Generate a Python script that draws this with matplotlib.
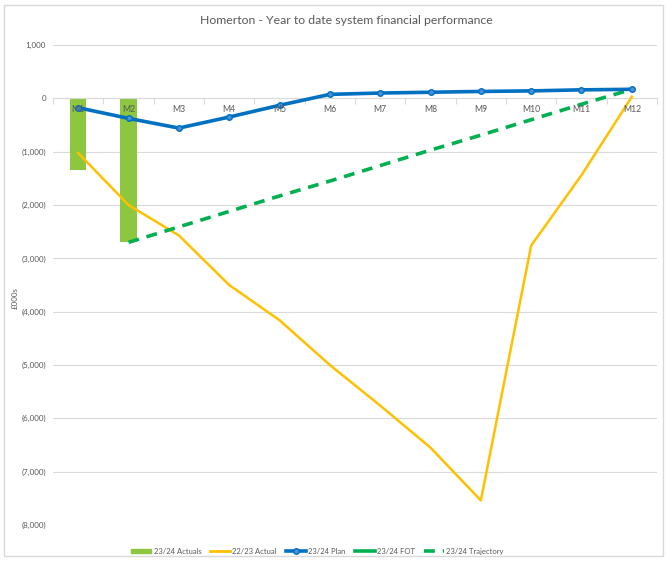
import numpy as np
import matplotlib.pyplot as plt
from matplotlib.lines import Line2D
from matplotlib.patches import Patch, Rectangle
from matplotlib.ticker import FuncFormatter

# Monthly year-to-date position, £000s
months = ['M1', 'M2', 'M3', 'M4', 'M5', 'M6', 'M7', 'M8', 'M9', 'M10', 'M11', 'M12']
actuals_2324 = [-1350, -2700]
actual_2223 = [-1025, -2000, -2570, -3500, -4160, -5000, -5760, -6550, -7540, -2760, -1440, 30]
plan_2324 = [-175, -375, -557, -350, -130, 75, 100, 115, 130, 140, 160, 170]
fot_2324 = []
trajectory_2324 = [-2700, -2410, -2120, -1830, -1550, -1260, -970, -690, -400, -110, 170]

plt.rcParams['font.family'] = ['Lato', 'DejaVu Sans']

fig = plt.figure(figsize=(6.67, 5.63), dpi=100)
ax = fig.add_axes([0.0795, 0.0675, 0.9055, 0.8525])

x = np.arange(len(months))
grey = '#595959'

ax.bar(x[:len(actuals_2324)], actuals_2324, width=0.32, color='#8DC63F', zorder=2)
ax.plot(x, actual_2223, color='#FFC000', lw=1.8, zorder=3)
ax.plot(x, plan_2324, color='#0070C0', lw=2.6, marker='o', ms=4,
        mfc='#4A90D9', mec='#0070C0', zorder=5)
ax.plot(x[1:], trajectory_2324, color='#00B050', lw=2.6, ls=(0, (3, 2.2)), zorder=4)

ax.set_xlim(-0.5, len(months) - 0.5)
ax.set_ylim(-8000, 1000)
ax.set_yticks(np.arange(-8000, 1001, 1000))
ax.yaxis.set_major_formatter(FuncFormatter(
    lambda v, p: '({:,.0f})'.format(-v) if v < 0 else '{:,.0f}'.format(v)))
ax.tick_params(axis='y', length=0, labelsize=5.8, labelcolor=grey, pad=5)
ax.grid(axis='y', color='#D9D9D9', lw=0.8, zorder=0)

# category axis sits on the zero line, labels drawn over the bars
for s in ['top', 'right', 'left']:
    ax.spines[s].set_visible(False)
ax.spines['bottom'].set_position(('data', 0))
ax.spines['bottom'].set_color('#D9D9D9')
ax.set_xticks(np.arange(-0.5, len(months), 1))
ax.tick_params(axis='x', length=4, color='#D9D9D9', labelbottom=False)
for xi, m in zip(x, months):
    ax.annotate(m, (xi, 0), xytext=(0, -5), textcoords='offset points',
                ha='center', va='top', fontsize=6.2, color=grey, zorder=6)

fig.text(0.023, 0.47, '£000s', rotation=90, fontsize=5.8, color=grey,
         ha='center', va='center')
fig.text(0.52, 0.963, 'Homerton - Year to date system financial performance',
         fontsize=8.8, color=grey, ha='center', va='center')

handles = [
    Patch(color='#8DC63F'),
    Line2D([], [], color='#FFC000', lw=2),
    Line2D([], [], color='#0070C0', lw=2.6, marker='o', ms=4, mfc='#4A90D9'),
    Line2D(fot_2324, fot_2324, color='#00B050', lw=2.6),
    Line2D([], [], color='#00B050', lw=2.6, ls=(0, (3, 2.2))),
]
labels = ['23/24 Actuals', '22/23 Actual', '23/24 Plan', '23/24 FOT', '23/24 Trajectory']
fig.legend(handles, labels, loc='center', bbox_to_anchor=(0.476, 0.021), ncol=5,
           frameon=False, fontsize=5.5, labelcolor=grey, handlelength=2.6,
           handleheight=0.6, handletextpad=0.3, columnspacing=1.2)

# chart border
fig.patches.append(Rectangle((0.006, 0.012), 0.988, 0.98, transform=fig.transFigure,
                             fill=False, ec='#D9D9D9', lw=1))

fig.savefig('out.png', dpi=100)
